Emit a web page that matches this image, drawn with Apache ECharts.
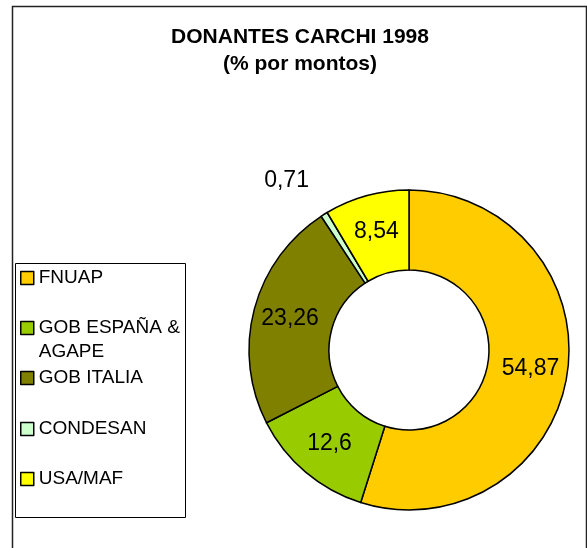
<!DOCTYPE html>
<html>
<head>
<meta charset="utf-8">
<script src="https://cdn.jsdelivr.net/npm/echarts@6/dist/echarts.min.js"></script>
<style>
  html, body { margin: 0; padding: 0; background: #fff; }
  #chart { width: 587px; height: 548px; }
</style>
</head>
<body>
<div id="chart"></div>
<script>
var donantes = ['FNUAP', 'GOB ESPAÑA &\nAGAPE', 'GOB ITALIA', 'CONDESAN', 'USA/MAF'];
var porcentajes = [54.87, 12.6, 23.26, 0.71, 8.54];
var colores = ['#FFCC00', '#99CC00', '#808000', '#CCFFCC', '#FFFF00'];
var legendCenters = [278, 328, 378, 429, 479];

var font = "'Liberation Sans', Arial, sans-serif";

var pieData = donantes.map(function (name, i) {
	var item = {
		name: name,
		value: porcentajes[i],
		itemStyle: { color: colores[i] }
	};
	if (porcentajes[i] < 2) {
		item.label = { position: 'outside', distanceToLabelLine: -6 };
		item.labelLine = { show: false, length: 40, length2: 0 };
	}
	return item;
});

var legends = donantes.map(function (name, i) {
	var twoLines = name.indexOf('\n') >= 0;
	return {
		data: [name],
		orient: 'vertical',
		left: 20,
		top: twoLines ? legendCenters[i] - 36 : legendCenters[i] - 11,
		padding: 0,
		itemWidth: 13,
		itemHeight: 13,
		itemGap: 0,
		icon: 'rect',
		selectedMode: false,
		itemStyle: { borderColor: '#000', borderWidth: 1.5 },
		// keep the icon beside the first line of a two-line name
		formatter: function (n) {
			return twoLines ? '\n' + n : n;
		},
		textStyle: {
			fontFamily: font,
			fontSize: 19,
			color: '#000',
			lineHeight: twoLines ? 24 : 22
		}
	};
});

echarts.init(document.getElementById('chart')).setOption({
	animation: false,
	title: {
		text: 'DONANTES CARCHI 1998\n(% por montos)',
		left: 300,
		top: 24,
		textAlign: 'center',
		padding: 0,
		textStyle: {
			fontFamily: font,
			fontSize: 21,
			fontWeight: 'bold',
			color: '#000',
			lineHeight: 27
		}
	},
	legend: legends,
	graphic: [
		{
			type: 'rect',
			shape: { x: 12.5, y: 6.5, width: 574, height: 560 },
			style: { fill: 'none', stroke: '#222', lineWidth: 1.5 },
			silent: true
		},
		{
			type: 'rect',
			shape: { x: 15.5, y: 263.5, width: 170, height: 254 },
			style: { fill: 'none', stroke: '#000', lineWidth: 1 },
			silent: true
		}
	],
	series: [{
		type: 'pie',
		center: [409, 350],
		radius: [80, 160],
		startAngle: 90,
		clockwise: true,
		data: pieData,
		itemStyle: { borderColor: '#000', borderWidth: 1.5 },
		label: {
			show: true,
			position: 'inside',
			color: '#000',
			fontFamily: font,
			fontSize: 23,
			textBorderWidth: 0,
			formatter: function (p) {
				return String(p.value).replace('.', ',');
			}
		},
		emphasis: { disabled: true }
	}]
});
</script>
</body>
</html>
